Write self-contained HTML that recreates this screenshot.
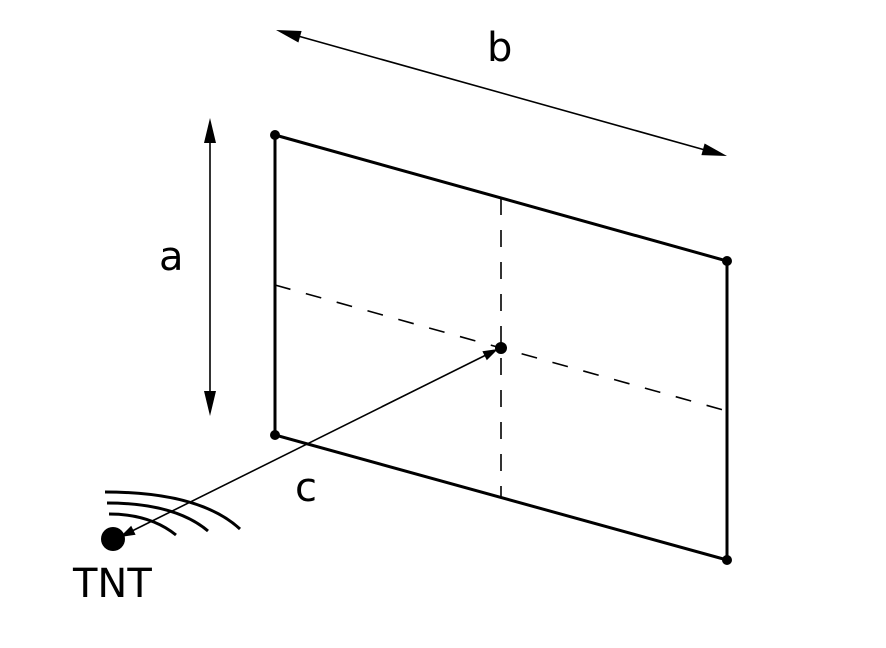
<!DOCTYPE html>
<html><head><meta charset="utf-8"><style>
html,body{margin:0;padding:0;background:#fff;}
svg{display:block;}
text{font-family:"DejaVu Sans","Liberation Sans",sans-serif;fill:#000;}
</style></head><body>
<svg width="886" height="648" viewBox="0 0 886 648" xmlns="http://www.w3.org/2000/svg">
<polygon points="275,135 727,261 727,560 275,435" fill="none" stroke="#000" stroke-width="3"/>
<line x1="275" y1="285" x2="727" y2="411" stroke="#000" stroke-width="1.6" stroke-dasharray="16,16"/>
<line x1="501" y1="198" x2="501" y2="498" stroke="#000" stroke-width="1.6" stroke-dasharray="17,15"/>
<circle cx="275" cy="135" r="5"/><circle cx="727" cy="261" r="5"/>
<circle cx="727" cy="560" r="5"/><circle cx="275" cy="435" r="5"/>
<circle cx="501" cy="348" r="6"/>
<!-- a -->
<line x1="210" y1="140" x2="210" y2="395" stroke="#000" stroke-width="1.6"/>
<polygon points="210,118 204,143 216,143"/>
<polygon points="210,416 204,391 216,391"/>
<!-- b -->
<line x1="298" y1="36" x2="705" y2="150" stroke="#000" stroke-width="1.6"/>
<polygon points="276,30 298.4,42.5 301.6,31"/>
<polygon points="727,156 701.4,155.1 704.6,143.5"/>
<!-- c -->
<line x1="132" y1="531" x2="486" y2="355" stroke="#000" stroke-width="1.6"/>
<polygon points="498,349 486.8,360.2 482.4,351.2"/>
<polygon points="120,537 135.6,534.8 131.2,525.8"/>
<!-- TNT waves -->
<path d="M105,492 Q200,492 240,529" fill="none" stroke="#000" stroke-width="3"/>
<path d="M107,503 Q175,503 208,531" fill="none" stroke="#000" stroke-width="3"/>
<path d="M109,514 Q150,514 176,535" fill="none" stroke="#000" stroke-width="3"/>
<circle cx="113" cy="539" r="12"/>
<text x="159" y="270" font-size="40">a</text>
<text x="487" y="61" font-size="40">b</text>
<text x="295" y="501" font-size="40">c</text>
<text x="73" y="597" font-size="40">TNT</text>
</svg>
</body></html>
